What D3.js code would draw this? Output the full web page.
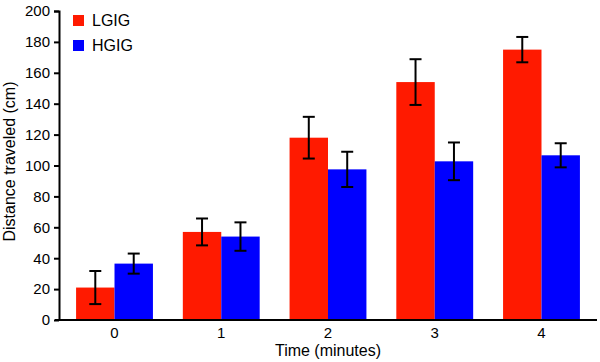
<!DOCTYPE html>
<html>
<head>
<meta charset="utf-8">
<script src="https://cdn.jsdelivr.net/npm/d3@7"></script>
<style>
  body { margin: 0; background: #fff; }
  svg text { font-family: "Liberation Sans", Arial, sans-serif; fill: #000; }
</style>
</head>
<body>
<div id="chart"></div>
<script>
const minutes = ['0', '1', '2', '3', '4'];
const series = ['LGIG', 'HGIG'];
const colors = ['#ff1a00', '#0000ff'];
const lgigMean = [21, 57, 118, 154, 175];
const lgigErr = [10.7, 8.7, 13.5, 14.8, 8.2];
const hgigMean = [36.5, 54, 97.5, 102.7, 106.6];
const hgigErr = [6.5, 9.2, 11.4, 12.2, 7.8];
const yTicks = [0, 20, 40, 60, 80, 100, 120, 140, 160, 180, 200];

const W = 600, H = 362;
const margin = { top: 11, right: 3, bottom: 42, left: 59 };
const width = W - margin.left - margin.right;
const height = H - margin.top - margin.bottom;

const svg = d3.select('#chart').append('svg')
    .attr('width', W)
    .attr('height', H);

const g = svg.append('g')
    .attr('transform', `translate(${margin.left},${margin.top})`);

const x0 = d3.scaleBand()
    .domain(minutes)
    .range([0, width])
    .paddingInner(0.28)
    .paddingOuter(0.16);

const x1 = d3.scaleBand()
    .domain(series)
    .range([0, x0.bandwidth()]);

const y = d3.scaleLinear()
    .domain([0, 200])
    .range([height, 0]);

const data = minutes.map((m, i) => ({
    minute: m,
    values: [
        { key: 'LGIG', mean: lgigMean[i], err: lgigErr[i] },
        { key: 'HGIG', mean: hgigMean[i], err: hgigErr[i] }
    ]
}));

// Bars
const groups = g.selectAll('.group')
    .data(data)
    .enter().append('g')
    .attr('class', 'group')
    .attr('transform', d => `translate(${x0(d.minute)},0)`);

groups.selectAll('rect')
    .data(d => d.values)
    .enter().append('rect')
    .attr('x', d => x1(d.key))
    .attr('y', d => y(d.mean))
    .attr('width', x1.bandwidth())
    .attr('height', d => height - y(d.mean))
    .attr('fill', (d, i) => colors[i]);

// Error bars
const capW = 6;
const err = groups.selectAll('.err')
    .data(d => d.values)
    .enter().append('g')
    .attr('class', 'err')
    .attr('stroke', '#000')
    .attr('stroke-width', 2);

err.append('line')
    .attr('x1', d => x1(d.key) + x1.bandwidth() / 2)
    .attr('x2', d => x1(d.key) + x1.bandwidth() / 2)
    .attr('y1', d => y(d.mean + d.err))
    .attr('y2', d => y(d.mean - d.err));

err.append('line')
    .attr('x1', d => x1(d.key) + x1.bandwidth() / 2 - capW)
    .attr('x2', d => x1(d.key) + x1.bandwidth() / 2 + capW)
    .attr('y1', d => y(d.mean + d.err))
    .attr('y2', d => y(d.mean + d.err));

err.append('line')
    .attr('x1', d => x1(d.key) + x1.bandwidth() / 2 - capW)
    .attr('x2', d => x1(d.key) + x1.bandwidth() / 2 + capW)
    .attr('y1', d => y(d.mean - d.err))
    .attr('y2', d => y(d.mean - d.err));

// Axes
const yAxis = g.append('g')
    .call(d3.axisLeft(y).tickValues(yTicks).tickSize(5).tickPadding(4));
yAxis.select('.domain').attr('d', `M-5,0.5H0.5V${height}`);
yAxis.selectAll('path, line').attr('stroke', '#000').attr('stroke-width', 2);
yAxis.selectAll('text').style('font-size', '15px');

const xAxis = g.append('g')
    .attr('transform', `translate(0,${height})`)
    .call(d3.axisBottom(x0).tickSize(0).tickPadding(7));
xAxis.select('.domain').attr('d', `M-4,0H${width}`)
    .attr('stroke', '#000').attr('stroke-width', 2);
xAxis.selectAll('text').style('font-size', '15px');

// Axis labels
g.append('text')
    .attr('transform', 'rotate(-90)')
    .attr('x', -height / 2 + 4)
    .attr('y', -44)
    .style('text-anchor', 'middle')
    .style('font-size', '16px')
    .text('Distance traveled (cm)');

g.append('text')
    .attr('x', width / 2)
    .attr('y', height + 36)
    .style('text-anchor', 'middle')
    .style('font-size', '16px')
    .text('Time (minutes)');

// Legend
const legend = g.selectAll('.legend')
    .data(series)
    .enter().append('g')
    .attr('class', 'legend')
    .attr('transform', (d, i) => `translate(14,${4 + i * 25})`);

legend.append('rect')
    .attr('width', 11)
    .attr('height', 11)
    .attr('fill', (d, i) => colors[i]);

legend.append('text')
    .attr('x', 19)
    .attr('y', 11)
    .style('font-size', '16px')
    .text(d => d);
</script>
</body>
</html>
